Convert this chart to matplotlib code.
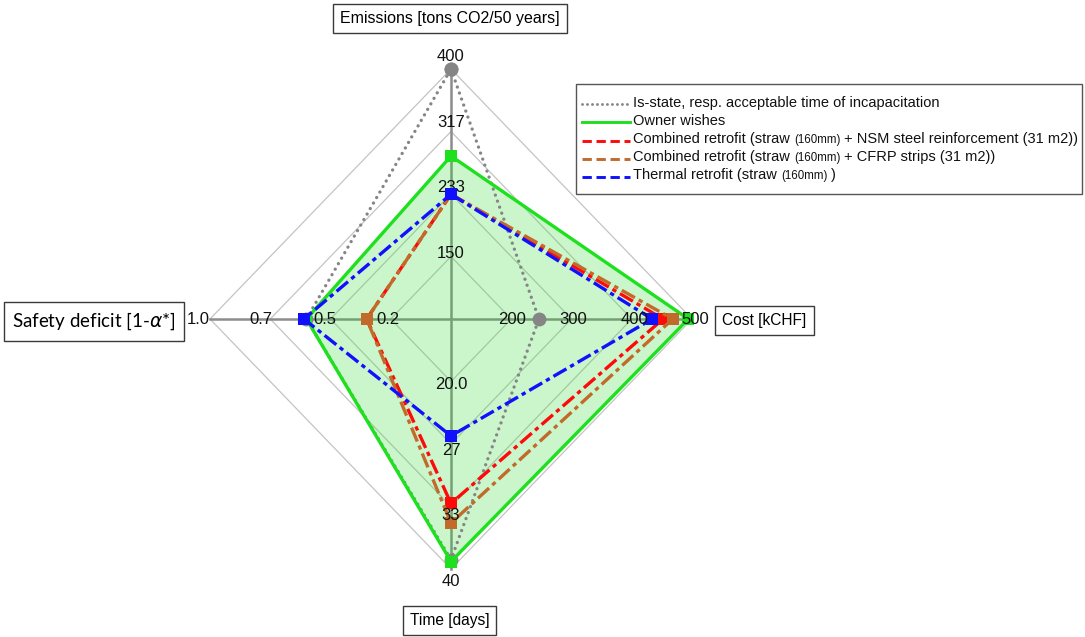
import numpy as np
import matplotlib
matplotlib.use("Agg")
import matplotlib.pyplot as plt
from matplotlib.lines import Line2D
from matplotlib.offsetbox import (TextArea, HPacker, VPacker, DrawingArea,
                                  AnchoredOffsetbox)

# ---- axes of the radar (clockwise from top) ----
axis_titles = ["Emissions [tons CO2/50 years]", "Cost [kCHF]", "Time [days]",
               "Safety deficit [1-$\\alpha$*]"]
axis_lo = [66.67, 100.0, 13.33, 0.0]     # value at the centre
axis_hi = [400.0, 500.0, 40.0, 1.0]      # value at the outer ring
tick_labels = [["150", "233", "317", "400"],
               ["200", "300", "400", "500"],
               ["20.0", "27", "33", "40"],
               ["0.2", "0.5", "0.7", "1.0"]]
ring_levels = [0.25, 0.5, 0.75, 1.0]

# ---- series: emissions, cost, time, safety deficit ----
is_state = [400, 246, 39.0, 0.60]
owner_wishes = [284, 494, 39.2, 0.60]
combined_nsm = [233, 452, 33.0, 0.35]
combined_cfrp = [233, 468, 35.1, 0.35]
thermal = [233, 434, 25.8, 0.61]

directions = np.array([[0, 1], [1, 0], [0, -1], [-1, 0]], dtype=float)


def radar_xy(values):
    v = np.asarray(values, dtype=float)
    frac = (v - np.array(axis_lo)) / (np.array(axis_hi) - np.array(axis_lo))
    pts = directions * frac[:, None]
    pts = np.vstack([pts, pts[:1]])
    return pts[:, 0], pts[:, 1]


W, H = 1085, 637
fig = plt.figure(figsize=(W / 100, H / 100), dpi=100)
plt.rcParams["font.family"] = ["Liberation Sans", "DejaVu Sans"]

cx, cy, rx, ry = 451, 319, 241, 250
ax = fig.add_axes([(cx - rx) / W, (H - cy - ry) / H, 2 * rx / W, 2 * ry / H])
ax.set_xlim(-1, 1)
ax.set_ylim(-1, 1)
ax.axis("off")

# grid rings and spokes
for r in ring_levels:
    gx, gy = directions[:, 0] * r, directions[:, 1] * r
    ax.plot(np.append(gx, gx[0]), np.append(gy, gy[0]), color="#c4c4c4",
            lw=0.9, zorder=1, clip_on=False)
ax.plot([-1, 1], [0, 0], color="#8c8c8c", lw=1.8, zorder=1.5, clip_on=False)
ax.plot([0, 0], [-1, 1], color="#8c8c8c", lw=1.8, zorder=1.5, clip_on=False)

# tick labels along each spoke
label_factor = [1.05, 1.015, 1.05, 1.05]
label_z = [3, 20, 20, 20]
for k, labels in enumerate(tick_labels):
    for r, lab in zip(ring_levels, labels):
        px, py = directions[k] * r * label_factor[k]
        ax.text(px, py, lab, ha="center", va="center", fontsize=12,
                color="#111111", zorder=label_z[k], clip_on=False)

# owner wishes area
ox, oy = radar_xy(owner_wishes)
ax.fill(ox, oy, color="#33dd33", alpha=0.25, lw=0, zorder=2)

dashdot = (0, (4.5, 1.3, 1.3, 1.3))
styles = [
    (is_state, dict(color="#858585", ls=(0, (0.01, 1.9)), marker="o", ms=10,
                    dash_capstyle="round")),
    (owner_wishes, dict(color="#1ee01e", ls="-", marker="s", ms=9)),
    (combined_nsm, dict(color="#ff0a0a", ls=dashdot, marker="s", ms=9)),
    (combined_cfrp, dict(color="#c26a2a", ls=dashdot, marker="s", ms=9)),
    (thermal, dict(color="#1010ff", ls=dashdot, marker="s", ms=9)),
]
for z, (vals, st) in enumerate(styles):
    x, y = radar_xy(vals)
    ax.plot(x, y, lw=2.4, zorder=4 + z, clip_on=False, markeredgewidth=0, **st)

# axis title boxes
box = dict(boxstyle="square,pad=0.45", fc="white", ec="#3a3a3a", lw=1)
title_pos = [(449.5, 18.5), (764.5, 320), (449.5, 620), (94, 321.5)]
title_size = [11.5, 11.2, 11.2]
for k, (t, (px, py)) in enumerate(zip(axis_titles, title_pos)):
    if k == 3:
        fig.text(px / W, 1 - py / H, t, ha="center", va="center", fontsize=13.5,
                 family=["Lato", "DejaVu Sans"], bbox=dict(box, pad=0.33))
    else:
        fig.text(px / W, 1 - py / H, t, ha="center", va="center",
                 fontsize=title_size[k], bbox=box)

# legend with a smaller font for the insulation thickness
L, S = 10.5, 8.3
legend_rows = [
    ([("Is-state, resp. acceptable time of incapacitation", L)], styles[0][1]),
    ([("Owner wishes", L)], styles[1][1]),
    ([("Combined retrofit (straw", L), ("(160mm)", S),
      ("+ NSM steel reinforcement (31 m2))", L)], styles[2][1]),
    ([("Combined retrofit (straw", L), ("(160mm)", S),
      ("+ CFRP strips (31 m2))", L)], styles[3][1]),
    ([("Thermal retrofit (straw", L), ("(160mm)", S), (")", L)], styles[4][1]),
]
rows = [DrawingArea(1, 2.5, 0, 0)]
for pieces, st in legend_rows:
    da = DrawingArea(37, 10, 0, 0)
    ls = st["ls"] if st["ls"] == "-" else (0, (3.2, 1.6))
    if st["ls"] == (0, (0.01, 1.9)):
        ls = (0, (0.01, 1.7))
    da.add_artist(Line2D([1, 36], [4, 4], color=st["color"], ls=ls, lw=2.1,
                         dash_capstyle=st.get("dash_capstyle", "butt")))
    texts = [TextArea(s, textprops=dict(fontsize=fs, color="#111111"))
             for s, fs in pieces]
    hp = HPacker(children=texts, pad=0, sep=2.8, align="baseline")
    rows.append(HPacker(children=[da, hp], pad=0, sep=1.2, align="center"))
rows.append(DrawingArea(1, 2.5, 0, 0))
vp = VPacker(children=rows, pad=0, sep=3.0, align="left")
anch = AnchoredOffsetbox(loc="upper left", child=vp, pad=0.3, borderpad=0,
                         frameon=True, bbox_to_anchor=(576 / W, 1 - 84 / H),
                         bbox_transform=fig.transFigure)
anch.patch.set_edgecolor("#555555")
anch.patch.set_linewidth(1)
anch.patch.set_boxstyle("square,pad=0")
fig.add_artist(anch)

fig.savefig("out.png", dpi=100)
